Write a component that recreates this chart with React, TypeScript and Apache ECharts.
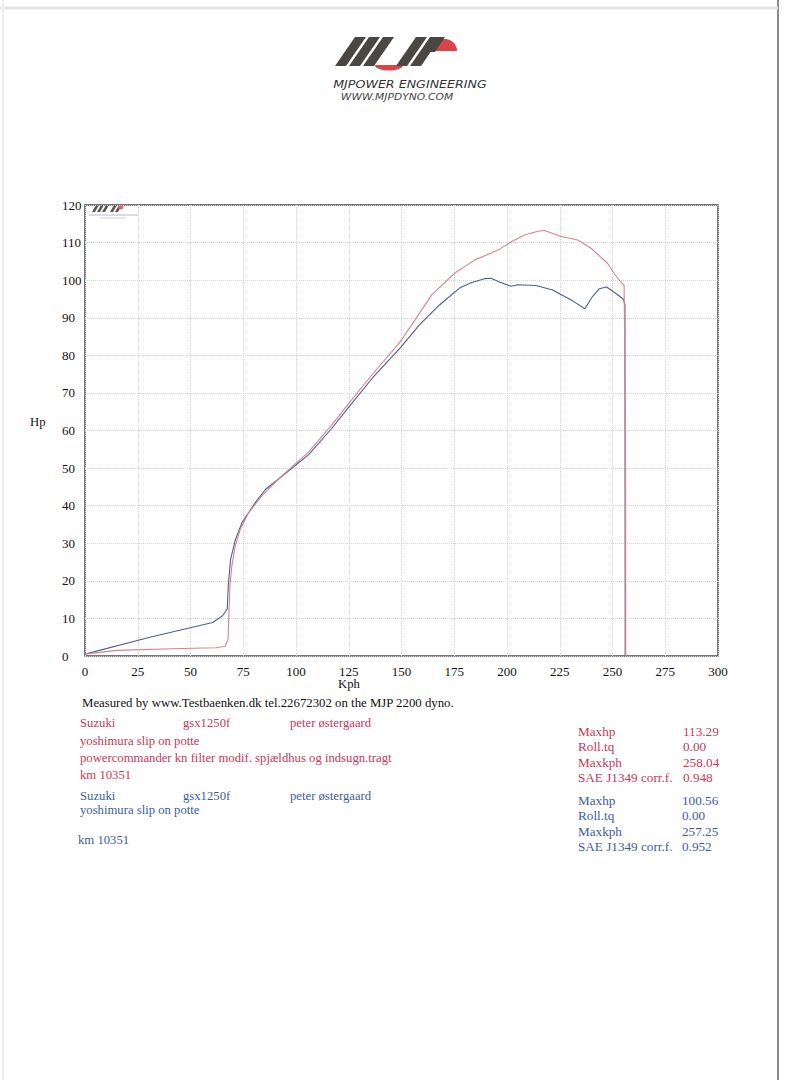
import React, { useEffect, useRef } from "react";
import * as echarts from "echarts";

// ---- data (kph, hp) read from the dyno sheet ----
const redRun: [number, number][] = [
  [0, 0.5], [15, 1.5], [46, 2.0], [62, 2.2], [66.5, 2.6], [67.8, 4.5], [68.2, 11.5],
  [68.7, 18.7], [69.6, 24], [71.2, 29.3], [73.6, 33.7], [77.5, 38.1], [83.8, 42.6],
  [93.3, 47.9], [106, 54.3], [117, 61.5], [125, 67.2], [137, 75.5], [149, 83.3],
  [156.5, 89.5], [164.3, 96.1], [175.3, 101.9], [184.8, 105.4], [195.8, 108],
  [202, 110.2], [208.3, 112], [214.6, 113.0], [217.8, 113.2], [225.6, 111.6],
  [233.5, 110.7], [239.8, 108.5], [247.6, 104.5], [252.4, 100.5], [255.5, 98.6],
  [256.2, 60], [256.3, 0],
];
const blueRun: [number, number][] = [
  [0, 0.5], [30.7, 5], [60.5, 8.9], [65.2, 10.7], [67.4, 12.5], [67.9, 18.7],
  [69, 25.7], [71.3, 31], [74.4, 35.5], [80.7, 40.8], [85.5, 44.3], [93.5, 47.9],
  [106, 53.6], [117, 60.6], [125, 66.2], [137, 74.5], [149.3, 81.9],
  [158.5, 88.1], [168, 93.4], [177.5, 97.9], [183, 99.3], [189.3, 100.4],
  [192.5, 100.5], [196.4, 99.5], [201.9, 98.4], [205, 98.8], [213.7, 98.6],
  [221.6, 97.4], [231.1, 94.5], [236.9, 92.4], [240.6, 95.7], [243.7, 97.7],
  [247.2, 98.2], [250.8, 96.8], [255.1, 95], [255.9, 93.4], [256.0, 0],
];

const xTicks = [0, 25, 50, 75, 100, 125, 150, 175, 200, 225, 250, 275, 300];
const yTicks = [0, 10, 20, 30, 40, 50, 60, 70, 80, 90, 100, 110, 120];

const redInfo = ["Suzuki", "gsx1250f", "peter østergaard"];
const redLines = [
  "yoshimura slip on potte",
  "powercommander kn filter modif. spjældhus og indsugn.tragt",
  "km 10351",
];
const blueInfo = ["Suzuki", "gsx1250f", "peter østergaard"];
const blueLines = ["yoshimura slip on potte", "km 10351"];

const statLabels = ["Maxhp", "Roll.tq", "Maxkph", "SAE J1349 corr.f."];
const redStats = ["113.29", "0.00", "258.04", "0.948"];
const blueStats = ["100.56", "0.00", "257.25", "0.952"];

const RED_LINE = "#d9828f";
const BLUE_LINE = "#4f5f8c";
const RED_TXT = "#c7375a";
const BLUE_TXT = "#3d5c9c";
const SERIF = "Liberation Serif, Times New Roman, serif";

export default function App() {
  const ref = useRef<HTMLDivElement>(null);
  useEffect(() => {
    if (!ref.current) return;
    const chart = echarts.init(ref.current, null, { renderer: "svg" });

    const t = (text: string, x: number, y: number, fill: string, size = 12.7, extra: any = {}) => ({
      type: "text",
      x,
      y,
      style: { text, fill, font: `${size}px ${SERIF}`, textVerticalAlign: "middle", ...extra },
    });

    const stripe = (bx: number, by: number, h: number, w: number, shift: number) => ({
      type: "polygon",
      shape: { points: [[bx, by], [bx + w, by], [bx + w + shift, by - h], [bx + shift, by - h]] },
      style: { fill: "#4a4642" },
    });

    const graphics: any[] = [];
    // page edges of the scan
    graphics.push({ type: "line", shape: { x1: 778, y1: 0, x2: 778, y2: 1080 }, style: { stroke: "#8a8a8a", lineWidth: 2 } });
    graphics.push({ type: "line", shape: { x1: 0, y1: 8, x2: 778, y2: 8 }, style: { stroke: "#e4e4e4", lineWidth: 3 } });
    graphics.push({ type: "line", shape: { x1: 3, y1: 0, x2: 3, y2: 1080 }, style: { stroke: "#eeeeee", lineWidth: 2 } });

    // header logo
    graphics.push({ type: "sector", shape: { cx: 445, cy: 51, r: 12, r0: 0, startAngle: Math.PI, endAngle: Math.PI * 2 }, style: { fill: "#d9444a" } });
    graphics.push({ type: "sector", shape: { cx: 389, cy: 65, r: 14, r0: 0, startAngle: 0, endAngle: Math.PI }, scaleY: 0.4, originY: 65, style: { fill: "#d9444a" } });
    [335, 349, 363, 396, 410].forEach((bx) => graphics.push(stripe(bx, 66, 29, 11, 20)));
    graphics.push(stripe(424, 52, 15, 11, 10));
    graphics.push({
      type: "text", x: 410, y: 84, scaleX: 1.15,
      style: { text: "MJPower engineering".toUpperCase(), fill: "#333", font: "italic 11px DejaVu Sans", textAlign: "center", textVerticalAlign: "middle" },
    });
    graphics.push({
      type: "text", x: 397, y: 97, scaleX: 1.26,
      style: { text: "WWW.MJPDYNO.COM", fill: "#444", font: "italic 8.5px DejaVu Sans", textAlign: "center", textVerticalAlign: "middle" },
    });

    // mini logo inside plot
    [92, 97, 102, 110, 115].forEach((bx) => graphics.push({
      type: "polygon",
      shape: { points: [[bx, 212], [bx + 3, 212], [bx + 7, 205], [bx + 4, 205]] },
      style: { fill: "#555" },
    }));
    graphics.push({ type: "circle", shape: { cx: 121, cy: 207, r: 2.5 }, style: { fill: "#d66" } });
    graphics.push({ type: "line", shape: { x1: 89, y1: 215, x2: 138, y2: 215 }, style: { stroke: "#b8b8c8", lineWidth: 1 } });
    graphics.push({ type: "line", shape: { x1: 100, y1: 218, x2: 126, y2: 218 }, style: { stroke: "#d0d0d8", lineWidth: 1 } });

    // axis names
    graphics.push(t("Hp", 30, 422, "#111", 12.7));
    graphics.push(t("Kph", 349, 684, "#111", 12.7, { textAlign: "center" }));

    // footer text
    graphics.push(t("Measured by www.Testbaenken.dk tel.22672302 on the MJP 2200 dyno.", 82, 703, "#111", 12.8));
    const cols = [80, 183, 290];
    redInfo.forEach((s, i) => graphics.push(t(s, cols[i], 723, RED_TXT)));
    redLines.forEach((s, i) => graphics.push(t(s, 80, 741 + i * 17, RED_TXT)));
    blueInfo.forEach((s, i) => graphics.push(t(s, cols[i], 796, BLUE_TXT)));
    graphics.push(t(blueLines[0], 80, 810, BLUE_TXT));
    graphics.push(t(blueLines[1], 78, 840, BLUE_TXT));
    statLabels.forEach((s, i) => {
      graphics.push(t(s, 578, 731 + i * 15.6, RED_TXT, 13.2));
      graphics.push(t(redStats[i], 683, 731 + i * 15.6, RED_TXT, 13.2));
      graphics.push(t(s, 578, 800 + i * 15.6, BLUE_TXT, 13.2));
      graphics.push(t(blueStats[i], 682, 800 + i * 15.6, BLUE_TXT, 13.2));
    });

    chart.setOption({
      animation: false,
      backgroundColor: "#ffffff",
      grid: {
        left: 85, top: 205, right: 67, bottom: 424,
        show: true, borderColor: "#4a4a4a", borderWidth: 1.5, backgroundColor: "transparent",
      },
      xAxis: {
        type: "value", min: xTicks[0], max: xTicks[xTicks.length - 1], interval: 25,
        axisLine: { show: false }, axisTick: { show: false },
        axisLabel: { color: "#111", fontFamily: SERIF, fontSize: 13, margin: 9 },
        splitLine: { show: true, lineStyle: { color: "#d2d2d2", type: "dotted", width: 1 } },
      },
      yAxis: {
        type: "value", min: yTicks[0], max: yTicks[yTicks.length - 1], interval: 10,
        axisLine: { show: false }, axisTick: { show: false },
        axisLabel: { color: "#111", fontFamily: SERIF, fontSize: 13, margin: 23, align: "left" },
        splitLine: { show: true, lineStyle: { color: "#d2d2d2", type: "dotted", width: 1 } },
      },
      series: [
        { type: "line", data: blueRun, showSymbol: false, lineStyle: { color: BLUE_LINE, width: 1.1 }, z: 3 },
        { type: "line", data: redRun, showSymbol: false, lineStyle: { color: RED_LINE, width: 1.1 }, z: 4 },
      ],
      graphic: graphics,
    });
    return () => chart.dispose();
  }, []);
  return <div ref={ref} style={{ position: "absolute", left: 0, top: 0, width: 785, height: 1080 }} />;
}
